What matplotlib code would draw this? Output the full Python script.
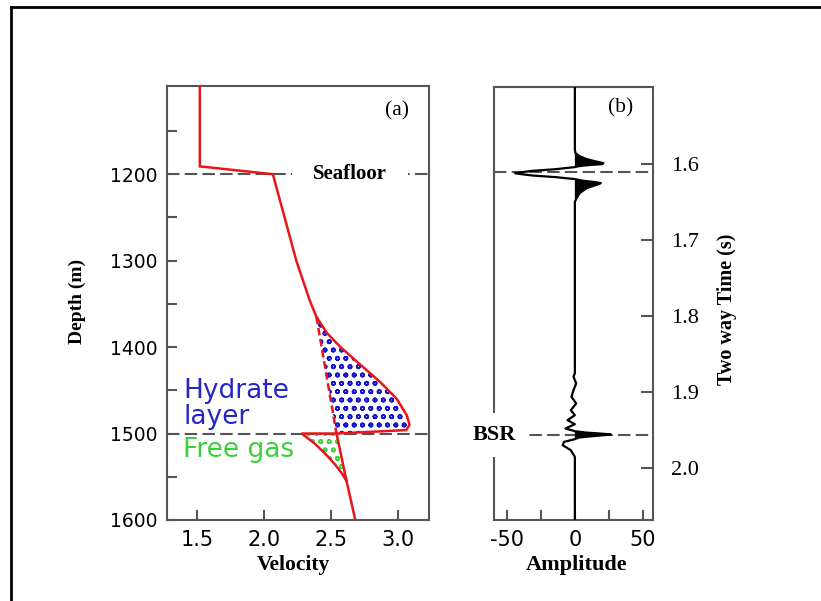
import matplotlib
matplotlib.use("Agg")
import matplotlib.pyplot as plt
from matplotlib.lines import Line2D
from matplotlib.ticker import FixedLocator, FixedFormatter

plt.rcParams['axes.unicode_minus'] = False
plt.rcParams['hatch.linewidth'] = 1.2

SANS = 'DejaVu Sans'
SERIF = 'Liberation Serif'
GREY = '#555555'
RED = '#e8161b'

# ---- Panel (a): velocity-depth profile (km/s, m) ----
profile_velocity = [1.52, 1.52, 2.065, 2.24, 2.34, 2.39, 2.47, 2.57, 2.73, 2.87,
                    2.99, 3.065, 3.085, 3.06, 2.54, 2.28, 2.38, 2.46, 2.53, 2.58,
                    2.615, 2.68]
profile_depth = [1098, 1191, 1200, 1300, 1346, 1365, 1384, 1400, 1422, 1441,
                 1460, 1479, 1490, 1496, 1500, 1500, 1512, 1524, 1536, 1546,
                 1555, 1600]
HYDRATE = slice(5, 15)   # bulge above the BSR
GAS = slice(14, 21)      # low-velocity wedge below the BSR

# background trend through the hydrate and gas zones
trend_velocity_hydrate = [2.39, 2.54]
trend_depth_hydrate = [1365, 1500]
trend_velocity_gas = [2.54, 2.615]
trend_depth_gas = [1500, 1555]

seafloor_depth = 1200
bsr_depth = 1500

depth_major = [1200, 1300, 1400, 1500, 1600]
depth_minor = [1150, 1250, 1350, 1450, 1550]
velocity_ticks = [1.5, 2.0, 2.5, 3.0]

# ---- Panel (b): synthetic seismic trace ----
trace_time = [1.499, 1.5816, 1.5859, 1.5895, 1.5934, 1.5967, 1.5991, 1.6004, 1.6017,
              1.6030, 1.6043, 1.6070, 1.6092, 1.6114, 1.6122, 1.6132, 1.6154, 1.6175,
              1.6201, 1.6220, 1.6241, 1.6254, 1.6276, 1.6320, 1.6386, 1.6496,
              1.8750, 1.8799, 1.8886, 1.8974, 1.9062, 1.9149, 1.9237, 1.9303, 1.9368,
              1.9421, 1.9478, 1.9513, 1.9531, 1.9550, 1.9557, 1.9575, 1.9596, 1.9618,
              1.9654, 1.9697, 1.9763, 1.9851, 2.068]
trace_amplitude = [0, 0, 0.5, 3, 8, 15, 21, 20, 10,
                   3, 0, -14, -31, -41, -44, -41, -31, -14,
                   0, 5, 15.4, 19.1, 16, 8.6, 3.4, 0,
                   0, -1, 1, -1, -2.5, 1, -3, 0, -5.4,
                   0, -7, 0, 8, 23, 26.5, 15, 3, 0,
                   -8, -9, -3, 0, 0]
seafloor_time = 1.6105
bsr_time = 1.9566
time_ticks = [1.6, 1.7, 1.8, 1.9, 2.0]
amplitude_major = [-50, 0, 50]
amplitude_minor = [-25, 25]

fig = plt.figure(figsize=(8.21, 6.01), dpi=100)
fig.patch.set_facecolor('white')

# frame around the figure (open on the right and bottom)
fig.add_artist(Line2D([0.0140, 0.0140], [0.0, 0.9884], color='black', lw=2.0,
                      transform=fig.transFigure, solid_capstyle='projecting'))
fig.add_artist(Line2D([0.0140, 1.0], [0.9884, 0.9884], color='black', lw=2.0,
                      transform=fig.transFigure, solid_capstyle='projecting'))

ax_a = fig.add_axes([0.2034, 0.1348, 0.3191, 0.7221])
ax_b = fig.add_axes([0.6017, 0.1348, 0.1937, 0.7205])

for ax in (ax_a, ax_b):
    for sp in ax.spines.values():
        sp.set_color(GREY)
        sp.set_linewidth(1.5)
    ax.tick_params(which='both', direction='in', length=7.5, width=1.5, color=GREY,
                   pad=7)

# ---------------- panel (a) ----------------
ax_a.set_xlim(1.275, 3.23)
ax_a.set_ylim(1600, 1098)
ax_a.yaxis.set_major_locator(FixedLocator(depth_major))
ax_a.yaxis.set_minor_locator(FixedLocator(depth_minor))
ax_a.xaxis.set_major_locator(FixedLocator(velocity_ticks))
ax_a.xaxis.set_major_formatter(FixedFormatter([f'{v:.1f}' for v in velocity_ticks]))
ax_a.tick_params(axis='x', labelsize=15)
ax_a.tick_params(axis='y', labelsize=13.5)
for lab in ax_a.get_xticklabels() + ax_a.get_yticklabels():
    lab.set_family(SANS)

dash_kw = dict(color=GREY, lw=1.5, dashes=(6, 2.5), zorder=1.5)
ax_a.axhline(seafloor_depth, **dash_kw)
ax_a.axhline(bsr_depth, **dash_kw)

# stippled fills for the hydrate layer and the free-gas zone
ax_a.fill(profile_velocity[HYDRATE], profile_depth[HYDRATE], facecolor='none',
          edgecolor='#1414d0', hatch='oo', lw=0, zorder=2)
ax_a.fill(profile_velocity[GAS], profile_depth[GAS], facecolor='none',
          edgecolor='#46d046', hatch='oo', lw=0, zorder=2)

ax_a.plot(trend_velocity_hydrate, trend_depth_hydrate, color=RED, lw=1.8,
          dashes=(3, 1.5), zorder=3)
ax_a.plot(trend_velocity_gas, trend_depth_gas, color=RED, lw=1.8, zorder=3)
ax_a.plot(profile_velocity, profile_depth, color=RED, lw=1.8, zorder=3,
          solid_joinstyle='miter')

ax_a.text(2.64, seafloor_depth, 'Seafloor', family=SERIF, weight='bold', fontsize=15,
          ha='center', va='center', zorder=4,
          bbox=dict(boxstyle='square,pad=1.0', fc='white', ec='none'))
ax_a.text(2.99, 1127, '(a)', family=SERIF, fontsize=15.5, ha='center', va='center')
ax_a.text(1.395, 1466, 'Hydrate\nlayer', family=SANS, fontsize=19, color='#2626c4',
          ha='left', va='center', linespacing=1.0)
ax_a.text(1.395, 1519, 'Free gas', family=SANS, fontsize=19, color='#3ccf3c',
          ha='left', va='center')

# ---------------- panel (b) ----------------
ax_b.set_xlim(-59.5, 57.5)
ax_b.set_ylim(2.068, 1.499)
ax_b.yaxis.tick_right()
ax_b.yaxis.set_major_locator(FixedLocator(time_ticks))
ax_b.yaxis.set_major_formatter(FixedFormatter([f'{t:.1f}' for t in time_ticks]))
ax_b.xaxis.set_major_locator(FixedLocator(amplitude_major))
ax_b.xaxis.set_minor_locator(FixedLocator(amplitude_minor))
ax_b.xaxis.set_major_formatter(FixedFormatter([str(a) for a in amplitude_major]))
ax_b.tick_params(axis='x', labelsize=15)
ax_b.tick_params(axis='y', labelsize=16, pad=13, length=9)
for lab in ax_b.get_xticklabels():
    lab.set_family(SANS)
for lab in ax_b.get_yticklabels():
    lab.set_family(SERIF)

ax_b.axhline(seafloor_time, **dash_kw)
ax_b.axhline(bsr_time, **dash_kw)

ax_b.fill_betweenx(trace_time, 0, trace_amplitude,
                   where=[a > 0 for a in trace_amplitude], interpolate=True,
                   color='black', lw=0, zorder=3)
ax_b.plot(trace_amplitude, trace_time, color='black', lw=1.6, zorder=3)

ax_b.text(33.8, 1.5267, '(b)', family=SERIF, fontsize=15.5, ha='center', va='center')
ax_b.text(-59.3, bsr_time, 'BSR', family=SERIF, weight='bold', fontsize=16,
          ha='center', va='center', zorder=5, clip_on=False,
          bbox=dict(boxstyle='square,pad=0.55', fc='white', ec='none'))

# ---------------- axis titles ----------------
fig.text(0.0938, 0.499, 'Depth (m)', family=SERIF, weight='bold', fontsize=14,
         rotation=90, ha='center', va='center')
fig.text(0.357, 0.060, 'Velocity', family=SERIF, weight='bold', fontsize=15.5,
         ha='center', va='center')
fig.text(0.7024, 0.060, 'Amplitude', family=SERIF, weight='bold', fontsize=16,
         ha='center', va='center')
fig.text(0.885, 0.486, 'Two way Time (s)', family=SERIF, weight='bold', fontsize=14.5,
         rotation=90, ha='center', va='center')

fig.savefig('out.png', dpi=100, facecolor='white')
